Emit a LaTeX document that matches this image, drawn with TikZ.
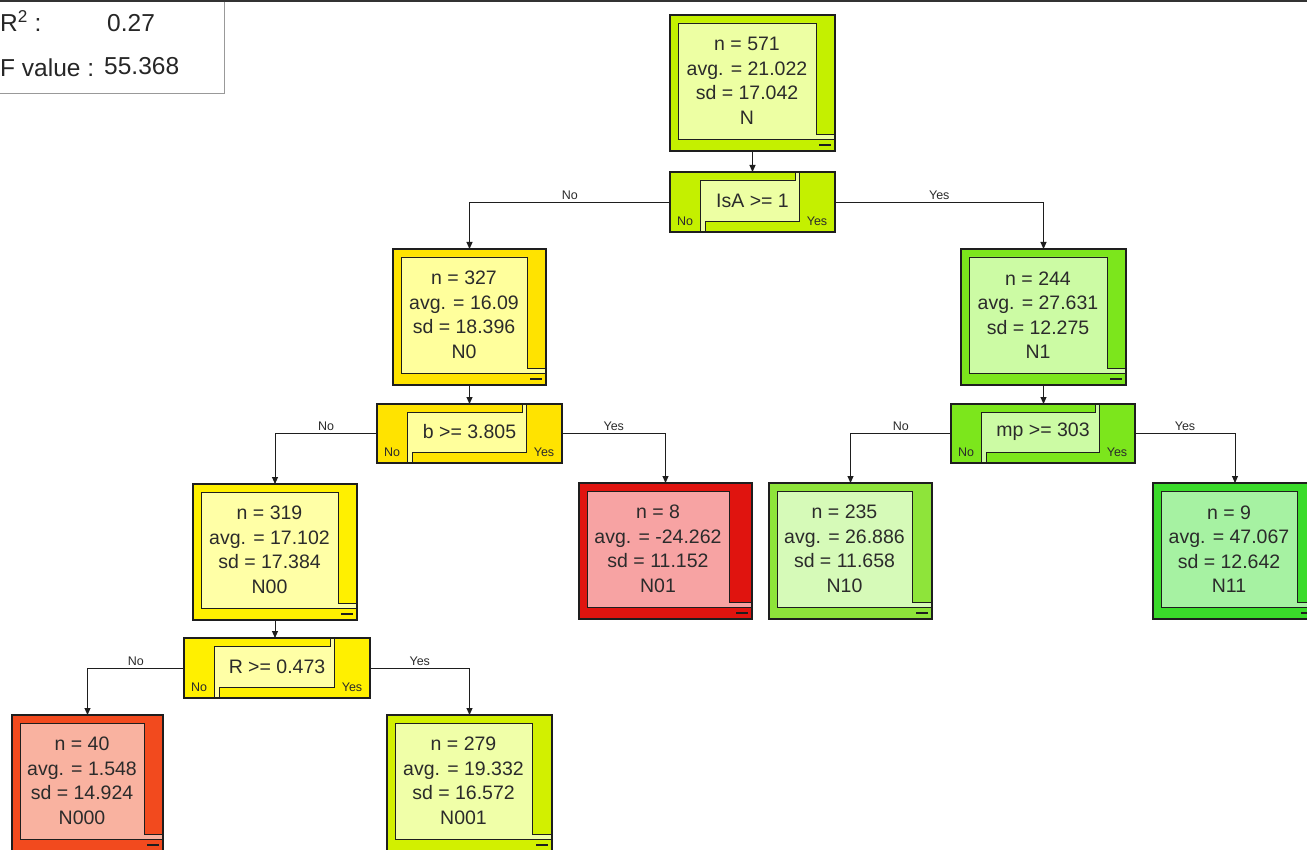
\documentclass[tikz,border=0pt]{standalone}
\usepackage{fontspec}
\setmainfont{Liberation Sans}
\usetikzlibrary{arrows.meta,calc}

\definecolor{txt}{HTML}{2B2B2B}
\definecolor{lineC}{HTML}{1E1E1E}
\definecolor{rootD}{HTML}{C4F000}\definecolor{rootL}{HTML}{EDFFA3}
\definecolor{nzD}{HTML}{FFE300}\definecolor{nzL}{HTML}{FFFF9C}
\definecolor{nzzD}{HTML}{FFF000}\definecolor{nzzL}{HTML}{FFFFA6}
\definecolor{noD}{HTML}{7CE61C}\definecolor{noL}{HTML}{CCFBA4}
\definecolor{nozD}{HTML}{8EE43A}\definecolor{nozL}{HTML}{D6FAB8}
\definecolor{nooD}{HTML}{3ADB2A}\definecolor{nooL}{HTML}{A6F2A2}
\definecolor{nzoD}{HTML}{E0140F}\definecolor{nzoL}{HTML}{F7A3A3}
\definecolor{nzzzD}{HTML}{F24A1E}\definecolor{nzzzL}{HTML}{F9B2A0}
\definecolor{nzzoD}{HTML}{D2F000}\definecolor{nzzoL}{HTML}{F0FFA8}

\tikzset{
  shapefill/.style={inner sep=0pt, outer sep=0pt},
  outerline/.style={draw=lineC, line width=1.2pt},
  innerline/.style={draw=lineC, line width=0.9pt},
  nodetext/.style={text=txt, font=\fontsize{19.5}{24.5}\selectfont, align=center, inner sep=0pt},
  smalllab/.style={text=txt, font=\fontsize{12.5}{14}\selectfont, inner sep=0pt},
  edgelab/.style={text=txt, font=\fontsize{12.5}{14}\selectfont, inner sep=2pt, above},
  statstext/.style={text=black!85, font=\fontsize{24.5}{28}\selectfont, inner sep=0pt, anchor=base west},
  conn/.style={draw=lineC, line width=0.9pt},
  arr/.style={conn, -{Triangle[width=6pt,length=7pt]}},
  dashmark/.style={draw=lineC, line width=1.5pt},
}

% #1 name, #2 x1, #3 y1, #4 x2, #5 y2, #6 right margin, #7 dark, #8 light, #9 text
\newcommand\TreeBox[9]{%
  \node[shapefill, fill=#7, minimum width={#4-#2}, minimum height={#5-#3}] (#1) at ({(#2+#4)/2},{(#3+#5)/2}) {};
  \path[innerline, fill=#8] ({#2+8},{#3+8}) -- ({#4-#6},{#3+8}) -- ({#4-#6},{#5-16.5}) -- ({#4},{#5-16.5}) -- ({#4},{#5-12}) -- ({#2+8},{#5-12}) -- cycle;
  \draw[dashmark] ({#4-16},{#5-6}) -- ({#4-4},{#5-6});
  \draw[outerline] (#1.south west) rectangle (#1.north east);
  \node[nodetext] (#1-t) at ({(#2+8+#4-#6)/2},{(#3+8+#5-12)/2}) {#9};
}

% #1 name, #2 x1, #3 y1, #4 x2, #5 y2, #6 dark, #7 light, #8 text
\newcommand\SplitBox[8]{%
  \node[shapefill, fill=#6, minimum width={#4-#2}, minimum height={#5-#3}] (#1) at ({(#2+#4)/2},{(#3+#5)/2}) {};
  \path[innerline, fill=#7] ({#2+30},{#3+8}) -- ({#4-40},{#3+8}) -- ({#4-40},{#3}) -- ({#4-36},{#3}) -- ({#4-36},{#5-11}) -- ({#2+35},{#5-11}) -- ({#2+35},{#5}) -- ({#2+30},{#5}) -- cycle;
  \draw[outerline] (#1.south west) rectangle (#1.north east);
  \node[nodetext] (#1-t) at ({(#2+30+#4-36)/2+3},{(#3+8+#5-11)/2}) {#8};
  \node[smalllab] (#1-no) at ({#2+15},{#5-11}) {No};
  \node[smalllab] (#1-yes) at ({#4-18},{#5-11}) {Yes};
}

\begin{document}
\begin{tikzpicture}[x=1pt,y=-1pt]
\useasboundingbox (0,0) rectangle (1307,850);
\clip (0,0) rectangle (1307,850);
\fill[white] (0,0) rectangle (1307,850);

% statistics box
\node[draw=black!40, line width=1pt, fill=white, inner sep=0pt, minimum width=240, minimum height=94] (stats) at (104,47) {};
\draw[line width=1.6pt, black!80] (0,1) -- (1307,1);
\node[statstext] (r2) at (0,32) {R\textsuperscript{2} :};
\node[statstext] (r2v) at (107,32) {0.27};
\node[statstext] (fv) at (0,77) {F value :};
\node[statstext] (fvv) at (104,75) {55.368};

% nodes
\TreeBox{N}{670}{15}{835}{151}{19}{rootD}{rootL}{n = 571\\avg. = 21.022\\sd = 17.042\\N}
\SplitBox{S}{670}{172}{835}{232}{rootD}{rootL}{IsA >= 1}

\TreeBox{N0}{393}{249}{546}{385}{19}{nzD}{nzL}{n = 327\\avg. = 16.09\\sd = 18.396\\N0}
\SplitBox{S0}{377}{404}{562}{463}{nzD}{nzL}{b >= 3.805}

\TreeBox{N1}{961}{249}{1126}{385}{19}{noD}{noL}{n = 244\\avg. = 27.631\\sd = 12.275\\N1}
\SplitBox{S1}{951}{404}{1135}{463}{noD}{noL}{mp >= 303}

\TreeBox{N00}{193}{484}{357}{620}{19}{nzzD}{nzzL}{n = 319\\avg. = 17.102\\sd = 17.384\\N00}
\SplitBox{S00}{184}{638}{370}{698}{nzzD}{nzzL}{R >= 0.473}

\TreeBox{N01}{579}{483}{752}{619}{23}{nzoD}{nzoL}{n = 8\\avg. = -24.262\\sd = 11.152\\N01}
\TreeBox{N10}{769}{483}{932}{619}{20}{nozD}{nozL}{n = 235\\avg. = 26.886\\sd = 11.658\\N10}
\TreeBox{N11}{1153}{483}{1317}{619}{20}{nooD}{nooL}{n = 9\\avg. = 47.067\\sd = 12.642\\N11}
\TreeBox{N000}{12}{715}{163}{851}{19}{nzzzD}{nzzzL}{n = 40\\avg. = 1.548\\sd = 14.924\\N000}
\TreeBox{N001}{387}{715}{552}{851}{20}{nzzoD}{nzzoL}{n = 279\\avg. = 19.332\\sd = 16.572\\N001}

% connectors
\draw[arr] (N.south) -- (N.south |- S.north);
\draw[arr] (N0.south) -- (N0.south |- S0.north);
\draw[arr] (N1.south) -- (N1.south |- S1.north);
\draw[arr] (N00.south) -- (N00.south |- S00.north);

\draw[arr] (S.west) -| node[edgelab, pos=0.25] (lSno) {No} (N0.north);
\draw[arr] (S.east) -| node[edgelab, pos=0.25] (lSyes) {Yes} (N1.north);
\draw[arr] (S0.west) -| node[edgelab, pos=0.25] (lS0no) {No} (N00.north);
\draw[arr] (S0.east) -| node[edgelab, pos=0.25] (lS0yes) {Yes} (N01.north);
\draw[arr] (S1.west) -| node[edgelab, pos=0.25] (lS1no) {No} (N10.north);
\draw[arr] (S1.east) -| node[edgelab, pos=0.25] (lS1yes) {Yes} (N11.north);
\draw[arr] (S00.west) -| node[edgelab, pos=0.25] (lS00no) {No} (N000.north);
\draw[arr] (S00.east) -| node[edgelab, pos=0.25] (lS00yes) {Yes} (N001.north);
\end{tikzpicture}
\end{document}
